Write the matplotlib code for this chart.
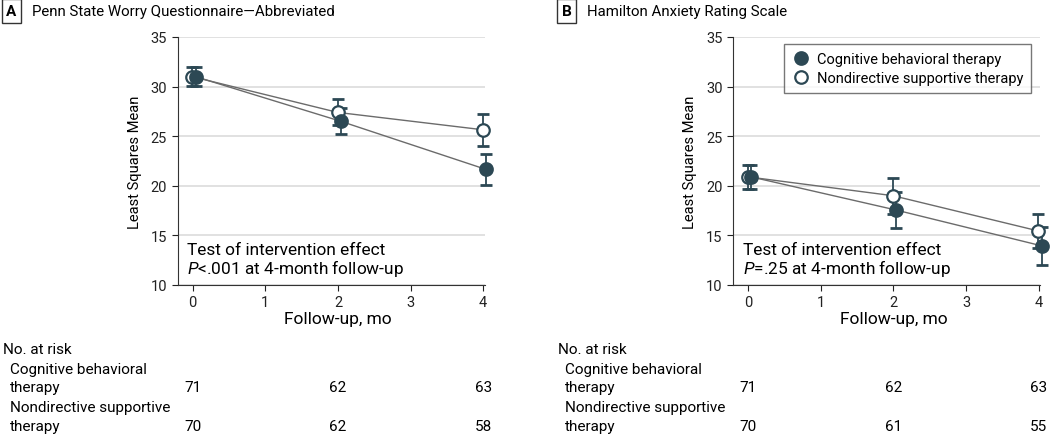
import matplotlib
matplotlib.use("Agg")
import matplotlib.pyplot as plt
from matplotlib.transforms import blended_transform_factory

plt.rcParams['font.family'] = ['Roboto', 'DejaVu Sans']
plt.rcParams['mathtext.fontset'] = 'custom'
plt.rcParams['mathtext.rm'] = 'Roboto'
plt.rcParams['mathtext.it'] = 'Roboto:italic'

months = [0, 2, 4]

# panel A - PSWQ-A
a_cbt = [31.0, 26.5, 21.65]
a_cbt_err = [0.95, 1.3, 1.55]
a_nst = [31.0, 27.4, 25.65]
a_nst_err = [0.95, 1.3, 1.6]
a_risk_cbt = [71, 62, 63]
a_risk_nst = [70, 62, 58]

# panel B - HARS
b_cbt = [20.9, 17.55, 13.95]
b_cbt_err = [1.2, 1.85, 1.9]
b_nst = [20.9, 19.0, 15.45]
b_nst_err = [1.2, 1.8, 1.75]
b_risk_cbt = [71, 62, 63]
b_risk_nst = [70, 61, 55]

dark = '#2c4854'
linec = '#6b6b6b'
fs = 11

fig = plt.figure(figsize=(10.5, 4.35), dpi=100)


def panel(left, letter, title, cbt, cbt_err, nst, nst_err, pval, risk_c, risk_n, legend=False):
    ax = fig.add_axes([left, 1 - 286 / 435, 0.2925, 248 / 435])
    xc = [m + 0.04 for m in months]
    xn = [m - 0.005 for m in months]
    ax.plot(xn, nst, color=linec, lw=1, zorder=2)
    ax.plot(xc, cbt, color=linec, lw=1, zorder=2)
    ax.errorbar(xc, cbt, yerr=cbt_err, fmt='none', ecolor=dark, elinewidth=1.3,
                capsize=4.5, capthick=2, zorder=3, clip_on=False)
    ax.errorbar(xn, nst, yerr=nst_err, fmt='none', ecolor=dark, elinewidth=1.3,
                capsize=4.5, capthick=2, zorder=3, clip_on=False)
    ax.plot(xn, nst, 'o', ms=9, mfc='white', mec=dark, mew=1.6, zorder=4,
            clip_on=False, label='Nondirective supportive therapy')
    ax.plot(xc, cbt, 'o', ms=9, mfc=dark, mec=dark, mew=1.6, zorder=5,
            clip_on=False, label='Cognitive behavioral therapy')

    ax.set_xlim(-0.21, 4.02)
    ax.set_ylim(10, 35)
    ax.set_xticks([0, 1, 2, 3, 4])
    ax.set_yticks([10, 15, 20, 25, 30, 35])
    ax.yaxis.grid(True, color='#dcdcdc', lw=1.2)
    ax.set_axisbelow(True)
    for s in ['top', 'right']:
        ax.spines[s].set_visible(False)
    ax.spines['left'].set_color('#333333')
    ax.spines['bottom'].set_color('#333333')
    ax.tick_params(labelsize=10.5, colors='#222222', length=4)
    ax.set_ylabel('Least Squares Mean', fontsize=10.6)
    ax.yaxis.set_label_coords(-0.116, 0.5)
    ax.set_xlabel('Follow-up, mo', fontsize=12.5)
    ax.xaxis.set_label_coords(0.523, -0.105)

    ax.text(-0.075, 12.55, 'Test of intervention effect\n$P$' + pval + ' at 4-month follow-up',
            fontsize=12.4, va='center', linespacing=1.02)

    if legend:
        handles, labels = ax.get_legend_handles_labels()
        leg = ax.legend(handles[::-1], labels[::-1], loc='upper right',
                        bbox_to_anchor=(0.97, 0.972), borderaxespad=0, fontsize=10.5,
                        frameon=True, fancybox=False, edgecolor='#555555',
                        handletextpad=0.4, borderpad=0.55, labelspacing=0.35,
                        handlelength=1.3)
        leg.get_frame().set_linewidth(1)

    # panel letter and title
    fx = left - 175 / 1050
    fig.text(fx + 0.0085, 1 - 12 / 435, letter, fontsize=fs, fontweight='bold',
             ha='center', va='center',
             bbox=dict(boxstyle='square,pad=0.3', fc='white', ec='#333333', lw=1))
    fig.text(fx + 0.028, 1 - 12 / 435, title, fontsize=10.8, va='center')

    # number at risk table
    tr = blended_transform_factory(ax.transData, fig.transFigure)
    fig.text(fx, 1 - 350 / 435, 'No. at risk', fontsize=fs, va='center')
    fig.text(fx + 0.007, 1 - 370 / 435, 'Cognitive behavioral', fontsize=fs, va='center')
    fig.text(fx + 0.007, 1 - 388 / 435, 'therapy', fontsize=fs, va='center')
    fig.text(fx + 0.007, 1 - 408 / 435, 'Nondirective supportive', fontsize=fs, va='center')
    fig.text(fx + 0.007, 1 - 427 / 435, 'therapy', fontsize=fs, va='center')
    for m, c, n in zip(months, risk_c, risk_n):
        fig.text(m, 1 - 388 / 435, str(c), transform=tr, fontsize=fs, ha='center', va='center')
        fig.text(m, 1 - 427 / 435, str(n), transform=tr, fontsize=fs, ha='center', va='center')
    return ax


panel(177.5 / 1050, 'A', 'Penn State Worry Questionnaire\u2014Abbreviated',
      a_cbt, a_cbt_err, a_nst, a_nst_err, '<.001', a_risk_cbt, a_risk_nst)
panel(733 / 1050, 'B', 'Hamilton Anxiety Rating Scale',
      b_cbt, b_cbt_err, b_nst, b_nst_err, '=.25', b_risk_cbt, b_risk_nst, legend=True)

fig.savefig('out.png', dpi=100)
